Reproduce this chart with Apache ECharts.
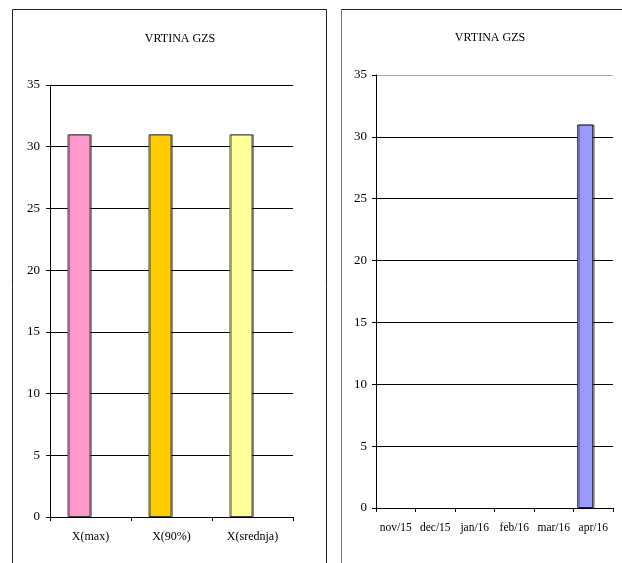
<!DOCTYPE html>
<html>
<head>
<meta charset="utf-8">
<script src="https://cdn.jsdelivr.net/npm/echarts@6/dist/echarts.min.js"></script>
<style>
  html, body { margin: 0; padding: 0; background: #fff; }
  #chart { width: 622px; height: 563px; }
</style>
</head>
<body>
<div id="chart"></div>
<script>
// Summary panel: three statistics of the well depth
const summaryTitle = 'VRTINA GZS';
const summaryCategories = ['X(max)', 'X(90%)', 'X(srednja)'];
const summaryValues = [31, 31, 31];
const summaryColors = ['#FF99CC', '#FFCC00', '#FFFF99'];

// Monthly panel
const monthlyTitle = 'VRTINA GZS';
const months = ['nov/15', 'dec/15', 'jan/16', 'feb/16', 'mar/16', 'apr/16'];
const monthlyValues = [null, null, null, null, null, 31];
const monthlyColor = '#9999FF';

// Shared value axis
const yMin = 0, yMax = 35, yStep = 5;

const font = 'Liberation Serif, Times New Roman, serif';

const chart = echarts.init(document.getElementById('chart'), null, { renderer: 'canvas' });

function valueAxis(gridIndex, splitColors, margin) {
  return {
    type: 'value', gridIndex, min: yMin, max: yMax, interval: yStep,
    axisLine: { show: true, lineStyle: { color: '#000', width: 1 } },
    axisTick: { show: true, length: 4, lineStyle: { color: '#000' } },
    axisLabel: { color: '#000', fontFamily: font, fontSize: 13, margin },
    splitLine: { show: true, lineStyle: { color: splitColors, width: 1 } }
  };
}

function categoryAxis(gridIndex, data, fontSize) {
  return {
    type: 'category', gridIndex, data,
    axisLine: { show: true, lineStyle: { color: '#000', width: 1 } },
    axisTick: { show: true, length: 4, alignWithLabel: false, lineStyle: { color: '#000' } },
    axisLabel: { color: '#000', fontFamily: font, fontSize, margin: 14, interval: 0 }
  };
}

const barShadow = { shadowColor: 'rgba(0,0,0,0.35)', shadowOffsetX: 1.5, shadowOffsetY: 0, shadowBlur: 0 };

chart.setOption({
  animation: false,
  backgroundColor: '#fff',
  title: [
    { text: summaryTitle, left: 175, top: 28, textAlign: 'center',
      textStyle: { fontFamily: font, fontSize: 12, fontWeight: 'normal', color: '#000' } },
    { text: monthlyTitle, left: 485, top: 27, textAlign: 'center',
      textStyle: { fontFamily: font, fontSize: 12, fontWeight: 'normal', color: '#000' } }
  ],
  grid: [
    { left: 50, top: 85, width: 243, height: 432, containLabel: false },
    { left: 376, top: 75, width: 237, height: 433, containLabel: false }
  ],
  xAxis: [
    categoryAxis(0, summaryCategories, 12),
    categoryAxis(1, months, 11.5)
  ],
  yAxis: [
    valueAxis(0, ['#000'], 10),
    valueAxis(1, ['#000', '#000', '#000', '#000', '#000', '#000', '#000', '#aaa'], 9)
  ],
  series: [
    {
      type: 'bar', xAxisIndex: 0, yAxisIndex: 0, barWidth: 23, barGap: '0%',
      data: summaryValues.map((v, i) => ({
        value: v,
        itemStyle: Object.assign({ color: summaryColors[i], borderColor: '#404040', borderWidth: 1 }, barShadow)
      }))
    },
    { type: 'bar', xAxisIndex: 0, yAxisIndex: 0, barWidth: 23, barGap: '0%',
      data: summaryValues.map(() => null) },
    {
      type: 'bar', xAxisIndex: 1, yAxisIndex: 1, barWidth: 16, barGap: '0%',
      itemStyle: Object.assign({ color: monthlyColor, borderColor: '#202020', borderWidth: 1 }, barShadow),
      data: monthlyValues
    },
    { type: 'bar', xAxisIndex: 1, yAxisIndex: 1, barWidth: 16, barGap: '0%',
      data: monthlyValues.map(() => null) }
  ],
  graphic: [
    // frame of the summary panel
    { type: 'polyline', silent: true, z: 100,
      shape: { points: [[12.5, 563], [12.5, 9.5], [326.5, 9.5], [326.5, 563]] },
      style: { stroke: '#222', lineWidth: 1, fill: null } },
    // frame of the monthly panel
    { type: 'line', silent: true, z: 100,
      shape: { x1: 341, y1: 9.5, x2: 622, y2: 9.5 },
      style: { stroke: '#222', lineWidth: 1 } },
    { type: 'line', silent: true, z: 100,
      shape: { x1: 341.5, y1: 9.5, x2: 341.5, y2: 563 },
      style: { stroke: '#777', lineWidth: 1 } }
  ]
});
</script>
</body>
</html>
